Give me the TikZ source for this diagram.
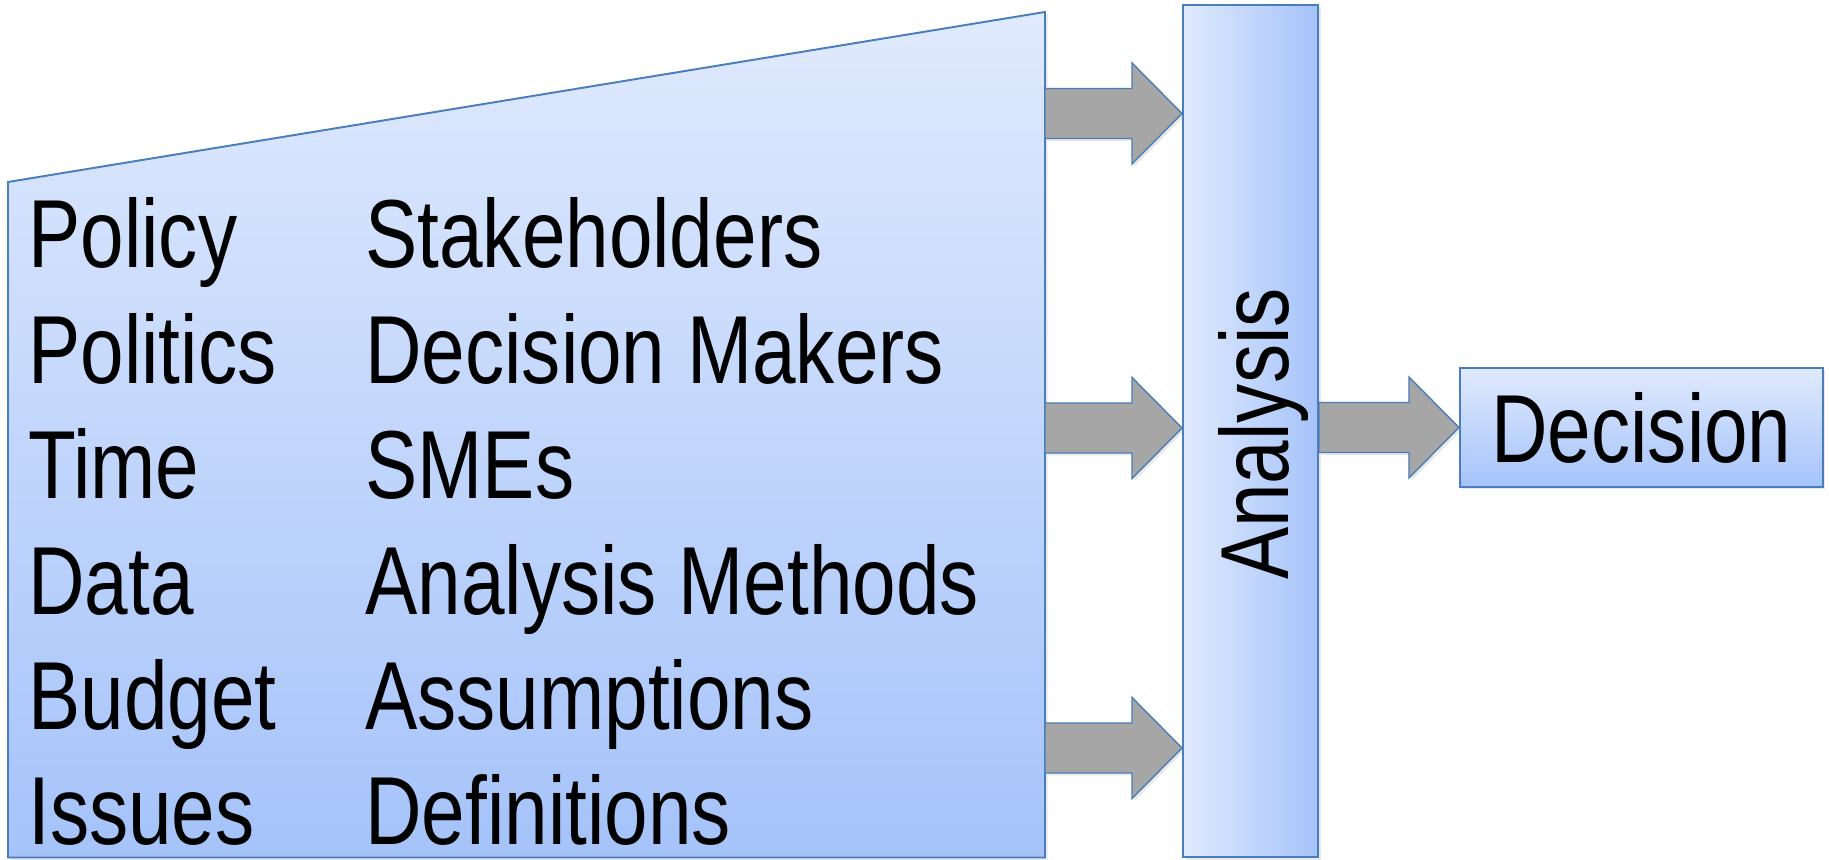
\documentclass[tikz,border=0pt]{standalone}
\usepackage{fontspec}
\setmainfont{Liberation Sans}[FakeStretch=0.81]
\usetikzlibrary{calc, positioning, shadows}

\definecolor{edgeblue}{HTML}{4A7EBB}
\definecolor{paleblue}{HTML}{E0EAFD}
\definecolor{deepblue}{HTML}{A5C3FA}
\definecolor{arrowgrey}{HTML}{A6A6A6}

\tikzstyle{softshadow} = [drop shadow={shadow xshift=0.5mm, shadow yshift=-0.5mm, opacity=0.18}]
\tikzstyle{panel}      = [draw=edgeblue, line width=1.1pt, top color=paleblue, bottom color=deepblue, softshadow]
\tikzstyle{column}     = [draw=edgeblue, line width=1.1pt, left color=paleblue, right color=deepblue, softshadow,
                          minimum width=27mm, minimum height=170.4mm, inner sep=0pt]
\tikzstyle{box}        = [draw=edgeblue, line width=1.1pt, top color=paleblue, bottom color=deepblue, softshadow,
                          minimum width=72.6mm, minimum height=23.8mm, inner sep=0pt]
\tikzstyle{word}       = [anchor=base west, inner sep=0pt, font=\fontsize{55}{60}\selectfont]
\tikzstyle{fatarrow}   = [draw=edgeblue, fill=arrowgrey, line width=0.8pt, softshadow]

% block arrow from a tail point to a tip point
\newcommand{\fatarrow}[2]{%
  \draw [fatarrow] let \p1=(#1), \p2=(#2) in
    (\x1,\y1+5mm) -- (\x2-10mm,\y1+5mm) -- (\x2-10mm,\y1+10.1mm) -- (\x2,\y1)
    -- (\x2-10mm,\y1-10.1mm) -- (\x2-10mm,\y1-5mm) -- (\x1,\y1-5mm) -- cycle;}

\begin{document}
\begin{tikzpicture}[x=0.2mm, y=0.2mm]
      \useasboundingbox (0,0) rectangle (1829,860);

      % input panel
      \draw [panel] (8,2.5) -- (8,678) -- (1045,848) -- (1045,2.5) -- cycle;

      \node (pol)    [word] at (28,592)   {Policy};
      \node (polit)  [word] at (28,476.6) {Politics};
      \node (time)   [word] at (28,361.2) {Time};
      \node (data)   [word] at (28,245.8) {Data};
      \node (budget) [word] at (28,130.4) {Budget};
      \node (issues) [word] at (28,15)    {Issues};

      \node (stake)   [word] at (365,592)   {Stakeholders};
      \node (makers)  [word] at (365,476.6) {Decision Makers};
      \node (smes)    [word] at (365,361.2) {SMEs};
      \node (methods) [word] at (365,245.8) {Analysis Methods};
      \node (assume)  [word] at (365,130.4) {Assumptions};
      \node (defs)    [word] at (365,15)    {Definitions};

      % analysis and decision
      \node (ana)  [column] at (1250.5,429) {};
      \node (anatext) [word, rotate=90, anchor=base] at (1288,426) {Analysis};
      \node (dec)  [box, right=28mm of ana, yshift=0.7mm] {\fontsize{55}{60}\selectfont Decision};

      \coordinate (in1) at (1045,746.5);
      \coordinate (in2) at (1045,432);
      \coordinate (in3) at (1045,112);
      \coordinate (out) at (ana.east |- dec.west);

      \fatarrow{in1}{ana.west |- in1}
      \fatarrow{in2}{ana.west |- in2}
      \fatarrow{in3}{ana.west |- in3}
      \fatarrow{out}{dec.west}

    \end{tikzpicture}
\end{document}
